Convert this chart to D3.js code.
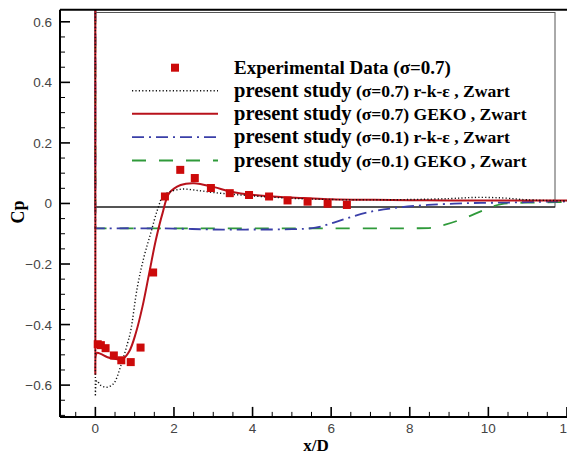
<!DOCTYPE html>
<html><head><meta charset="utf-8">
<script src="https://cdn.jsdelivr.net/npm/d3@7"></script>
<style>html,body{margin:0;padding:0;background:#fff;overflow:hidden}</style>
</head><body>
<svg id="chart" width="567" height="454"></svg>
<script>
// ---- data ----
const expX = [0.06, 0.14, 0.26, 0.47, 0.66, 0.90, 1.15, 1.47, 1.77, 2.16, 2.53, 2.94, 3.42, 3.91, 4.42, 4.89, 5.40, 5.91, 6.40];
const expY = [-0.465, -0.468, -0.478, -0.502, -0.518, -0.524, -0.476, -0.228, 0.023, 0.111, 0.084, 0.051, 0.034, 0.028, 0.023, 0.010, 0.006, -0.001, -0.005];

const rkeS07X = [0, 0, 0.04, 0.13, 0.3, 0.47, 0.64, 0.82, 0.9, 1.07, 1.24, 1.41, 1.58, 1.75, 2.17, 2.6, 3.02, 3.5, 4.0, 5.0, 6.0, 7.0, 8.0, 9.0, 9.7, 10.4, 11.0, 12.5];
const rkeS07Y = [0.64, -0.637, -0.585, -0.6, -0.607, -0.594, -0.539, -0.461, -0.42, -0.275, -0.175, -0.098, -0.021, 0.028, 0.047, 0.043, 0.036, 0.030, 0.025, 0.017, 0.013, 0.012, 0.013, 0.016, 0.020, 0.018, 0.012, 0.008];

const gekoS07X = [0, 0, 0.04, 0.135, 0.31, 0.52, 0.69, 0.86, 1.03, 1.2, 1.37, 1.54, 1.71, 1.88, 2.17, 2.51, 3.02, 3.45, 4.04, 4.72, 5.3, 6.0, 7.0, 8.0, 9.0, 10.0, 11.0, 12.5];
const gekoS07Y = [0.64, -0.566, -0.494, -0.497, -0.508, -0.514, -0.514, -0.489, -0.428, -0.34, -0.23, -0.12, -0.032, 0.034, 0.061, 0.067, 0.054, 0.039, 0.028, 0.021, 0.018, 0.014, 0.012, 0.011, 0.010, 0.010, 0.010, 0.010];

const rkeS01X = [0, 0, 0.3, 1, 2, 3, 4, 5, 5.6, 6.07, 6.5, 6.93, 7.61, 8.46, 9.48, 10.5, 11.5, 12.5];
const rkeS01Y = [0.64, -0.082, -0.082, -0.082, -0.083, -0.086, -0.086, -0.085, -0.080, -0.063, -0.045, -0.029, -0.015, -0.005, 0.001, 0.003, 0.006, 0.007];

const gekoS01X = [0, 0, 2, 4, 6, 8, 8.6, 8.88, 9.39, 9.9, 10.33, 11.17, 12.5];
const gekoS01Y = [0.64, -0.082, -0.082, -0.082, -0.082, -0.082, -0.080, -0.071, -0.049, -0.021, -0.002, 0.003, 0.005];

const xTicks = [0, 2, 4, 6, 8, 10, 12];
const yTicks = [-0.6, -0.4, -0.2, 0, 0.2, 0.4, 0.6];

const legendLabels = [
  ["", "Experimental Data (σ=0.7)"],
  ["present study", " (σ=0.7) r-k-ε , Zwart"],
  ["present study", " (σ=0.7) GEKO , Zwart"],
  ["present study", " (σ=0.1) r-k-ε , Zwart"],
  ["present study", " (σ=0.1) GEKO , Zwart"]
];

// ---- drawing ----
const svg = d3.select("#chart");
const x = d3.scaleLinear().domain([-0.9, 12.5]).range([60, 586.6]);
const y = d3.scaleLinear().domain([-0.705, 0.64]).range([416.9, 9.7]);
const L = 60, B = 416.9, T = 9.7;

svg.append("defs").append("clipPath").attr("id", "plot")
  .append("rect").attr("x", L).attr("y", T).attr("width", 600).attr("height", B - T);

// legend box (behind data)
svg.append("rect").attr("x", 95).attr("y", 12.5).attr("width", 460).attr("height", 194.5)
  .attr("fill", "none").attr("stroke", "#555").attr("stroke-width", 1);
svg.append("line").attr("x1", 95).attr("x2", 555).attr("y1", 207).attr("y2", 207)
  .attr("stroke", "#000").attr("stroke-width", 1.2);

const smooth = d3.line().x(d => x(d[0])).y(d => y(d[1])).curve(d3.curveCatmullRom.alpha(0.5));
const zip = (a, b) => a.map((v, i) => [v, b[i]]);
// vertical drop at x=0 drawn straight, rest smoothed
const pathOf = (xs, ys) => {
  const pts = zip(xs, ys);
  return "M" + x(pts[0][0]) + "," + y(pts[0][1]) + smooth(pts.slice(1)).replace(/^M/, "L");
};

const g = svg.append("g").attr("clip-path", "url(#plot)");
const series = [
  {xs: gekoS01X, ys: gekoS01Y, color: "#2f9a3a", w: 1.8, dash: "14,13"},
  {xs: rkeS01X, ys: rkeS01Y, color: "#3a3fa8", w: 1.8, dash: "12,5,2,5"},
  {xs: gekoS07X, ys: gekoS07Y, color: "#b8121b", w: 2, dash: null},
  {xs: rkeS07X, ys: rkeS07Y, color: "#111", w: 1.4, dash: "1.2,2.2"}
];
series.forEach(s => {
  g.append("path").attr("d", pathOf(s.xs, s.ys)).attr("fill", "none")
    .attr("stroke", s.color).attr("stroke-width", s.w)
    .attr("stroke-dasharray", s.dash);
});

g.selectAll("rect.exp").data(zip(expX, expY)).enter().append("rect").attr("class", "exp")
  .attr("x", d => x(d[0]) - 4).attr("y", d => y(d[1]) - 4)
  .attr("width", 8).attr("height", 8).attr("fill", "#cc0a0a");

// axes
const xMinor = d3.range(-0.5, 12.51, 0.5);
const yMinor = d3.range(-0.7, 0.6501, 0.05).filter(v => v > -0.705 && v < 0.64);
const ax = svg.append("g");
xMinor.forEach(v => {
  const major = Math.abs(v / 2 - Math.round(v / 2)) < 1e-6;
  ax.append("line").attr("x1", x(v)).attr("x2", x(v)).attr("y1", B).attr("y2", B - (major ? 10 : 5))
    .attr("stroke", "#000").attr("stroke-width", major ? 1.6 : 1);
});
yMinor.forEach(v => {
  const major = Math.abs(v / 0.2 - Math.round(v / 0.2)) < 1e-6;
  ax.append("line").attr("x1", L).attr("x2", L + (major ? 10 : 5)).attr("y1", y(v)).attr("y2", y(v))
    .attr("stroke", "#000").attr("stroke-width", major ? 1.6 : 1);
});
ax.append("line").attr("x1", L).attr("x2", 600).attr("y1", B).attr("y2", B).attr("stroke", "#000").attr("stroke-width", 2);
ax.append("line").attr("x1", L).attr("x2", L).attr("y1", T).attr("y2", B).attr("stroke", "#000").attr("stroke-width", 2);
ax.append("line").attr("x1", L).attr("x2", 600).attr("y1", T).attr("y2", T).attr("stroke", "#000").attr("stroke-width", 2);

ax.selectAll("text.xt").data(xTicks).enter().append("text")
  .attr("x", d => x(d)).attr("y", 433).attr("text-anchor", "middle")
  .attr("font-family", "Liberation Sans, Arial, sans-serif").attr("font-size", 13.5).attr("fill", "#444")
  .text(d => d);
ax.selectAll("text.yt").data(yTicks).enter().append("text")
  .attr("x", 52).attr("y", d => y(d) + 5).attr("text-anchor", "end")
  .attr("font-family", "Liberation Sans, Arial, sans-serif").attr("font-size", 13.5).attr("fill", "#444")
  .text(d => d === 0 ? "0" : d3.format(".1f")(d));

svg.append("text").attr("x", 316).attr("y", 451).attr("text-anchor", "middle")
  .attr("font-family", "Liberation Serif, Times New Roman, serif").attr("font-weight", "bold").attr("font-size", 17)
  .text("x/D");
svg.append("text").attr("transform", "translate(24,212) rotate(-90)").attr("text-anchor", "middle")
  .attr("font-family", "Liberation Serif, Times New Roman, serif").attr("font-weight", "bold").attr("font-size", 18)
  .text("Cp");

// legend
const rowY = [67.7, 90.7, 113.8, 137.2, 160.5];
const lg = svg.append("g");
lg.append("rect").attr("x", 171).attr("y", rowY[0] - 4).attr("width", 8).attr("height", 8).attr("fill", "#cc0a0a");
const lgSeries = [series[3], series[2], series[1], series[0]];
lgSeries.forEach((s, i) => {
  lg.append("line").attr("x1", 132).attr("x2", 218).attr("y1", rowY[i + 1]).attr("y2", rowY[i + 1])
    .attr("stroke", s.color).attr("stroke-width", s.w).attr("stroke-dasharray", s.dash);
});
legendLabels.forEach((lab, i) => {
  const t = lg.append("text").attr("x", 234).attr("y", rowY[i] + 6)
    .attr("font-family", "Liberation Serif, Times New Roman, serif").attr("font-weight", "bold");
  if (lab[0]) t.append("tspan").attr("font-size", 20.5).text(lab[0]);
  t.append("tspan").attr("font-size", lab[0] ? 17.6 : 19).text(lab[1]);
});
</script>
</body></html>
